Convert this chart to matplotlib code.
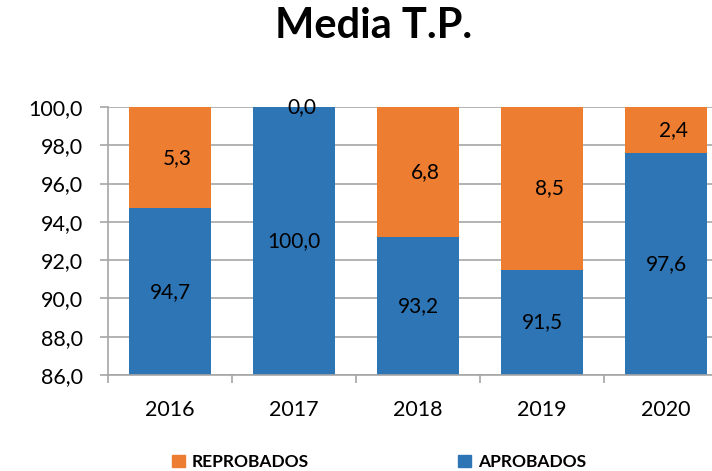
import matplotlib
matplotlib.use("Agg")
import matplotlib.pyplot as plt
import numpy as np
from matplotlib.patches import Patch

# data
years = ["2016", "2017", "2018", "2019", "2020"]
aprobados = [94.7, 100.0, 93.2, 91.5, 97.6]
reprobados = [5.3, 0.0, 6.8, 8.5, 2.4]
y_ticks = [86, 88, 90, 92, 94, 96, 98, 100]

blue = "#2E75B6"
orange = "#ED7D31"
grid_gray = "#A6A6A6"

plt.rcParams['font.family'] = ['Lato', 'DejaVu Sans']

fig = plt.figure(figsize=(7.12, 4.71), dpi=100)
ax = fig.add_axes([108 / 712, 96 / 471, 620 / 712, 268 / 471])

x = np.arange(len(years))
ymin, ymax = 86, 100

ax.bar(x, aprobados, width=0.66, color=blue, zorder=2)
ax.bar(x, reprobados, width=0.66, bottom=aprobados, color=orange, zorder=2)

# labels centred in the visible part of each segment
for i in range(len(years)):
    lo = max(ymin, 0)
    top_blue = min(aprobados[i], ymax)
    ax.text(x[i], (lo + top_blue) / 2, f"{aprobados[i]:.1f}".replace(".", ","),
            ha="center", va="center", fontsize=15, zorder=3)
    seg_lo = aprobados[i]
    seg_hi = min(aprobados[i] + reprobados[i], ymax)
    ax.text(x[i] + 0.06, (seg_lo + seg_hi) / 2, f"{reprobados[i]:.1f}".replace(".", ","),
            ha="center", va="center", fontsize=15, zorder=3)

ax.set_xlim(-0.5, len(years) - 0.5)
ax.set_ylim(ymin, ymax)
ax.set_yticks(y_ticks)
ax.set_yticklabels([f"{v:.1f}".replace(".", ",") for v in y_ticks])
ax.set_xticks(x)
ax.set_xticklabels(years)
ax.set_xticks(np.arange(-0.5, len(years)), minor=True)

ax.yaxis.grid(True, color=grid_gray, linewidth=1.2, zorder=0)
ax.set_axisbelow(True)
for s in ["top", "right"]:
    ax.spines[s].set_visible(False)
for s in ["left", "bottom"]:
    ax.spines[s].set_color(grid_gray)
    ax.spines[s].set_linewidth(1.2)

ax.tick_params(axis="y", length=6, width=1.2, color=grid_gray, pad=12, labelsize=15.5)
ax.tick_params(axis="x", which="major", length=0, pad=18, labelsize=15.5)
ax.tick_params(axis="x", which="minor", length=6, width=1.2, color=grid_gray)

fig.suptitle("Media T.P.", x=0.525, y=0.985, fontsize=30, fontweight="bold", va="top")

handles = [Patch(color=orange, label="REPROBADOS"), Patch(color=blue, label="APROBADOS")]
fig.legend(handles=handles, loc="center", bbox_to_anchor=(0.532, 9 / 471), ncol=2,
           frameon=False, prop={"weight": "bold", "size": 12.5}, handlelength=0.75,
           handleheight=0.75, handletextpad=0.4, columnspacing=8.6)

fig.savefig("out.png", dpi=100)
